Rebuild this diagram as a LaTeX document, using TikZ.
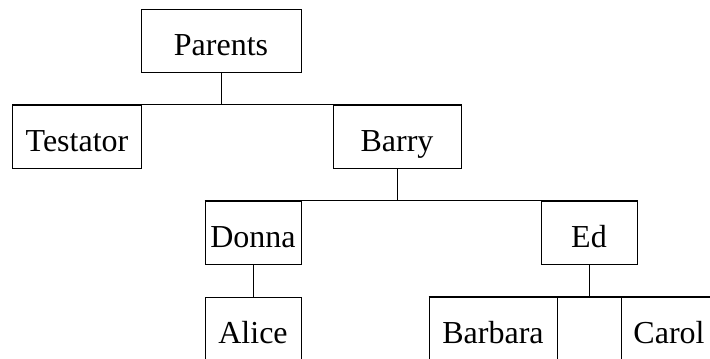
\documentclass[tikz,border=0pt]{standalone}
\usepackage{fontspec}
\setmainfont{Liberation Serif}

\begin{document}
\begin{tikzpicture}[
  x=1bp, y=-1bp,
  line width=1bp,
  person/.style={draw, inner xsep=0pt, inner ysep=0pt,
    minimum width=#1, text height=46bp, text depth=17bp,
    font=\fontsize{32bp}{38bp}\selectfont},
  person/.default=96bp,
]
\clip (0,0) rectangle (710,358);
% generations, top to bottom
\node[person=160bp] (parents) at (221,40.5) {Parents};
\node[person=128bp] (testator) at (77,136.5) {Testator};
\node[person=128bp] (barry) at (397,136.5) {Barry};
\node[person] (donna) at (253,232.5) {Donna};
\node[person] (ed) at (589,232.5) {Ed};
\node[person] (alice) at (253,328.5) {Alice};
\node[person=128bp] (barbara) at (493,328.5) {Barbara};
\node[person=64bp] (blank) at (589,328.5) {};
\node[person] (carol) at (669,328.5) {Carol};
% descent lines
\draw (parents.south) -- (parents.south |- testator.north);
\draw (testator.north west) -- (barry.north east);
\draw (barry.south) -- (barry.south |- donna.north);
\draw (donna.north west) -- (ed.north east);
\draw (donna.south) -- (alice.north);
\draw (ed.south) -- (blank.north);
\draw (barbara.north west) -- (carol.north east);
\end{tikzpicture}
\end{document}
